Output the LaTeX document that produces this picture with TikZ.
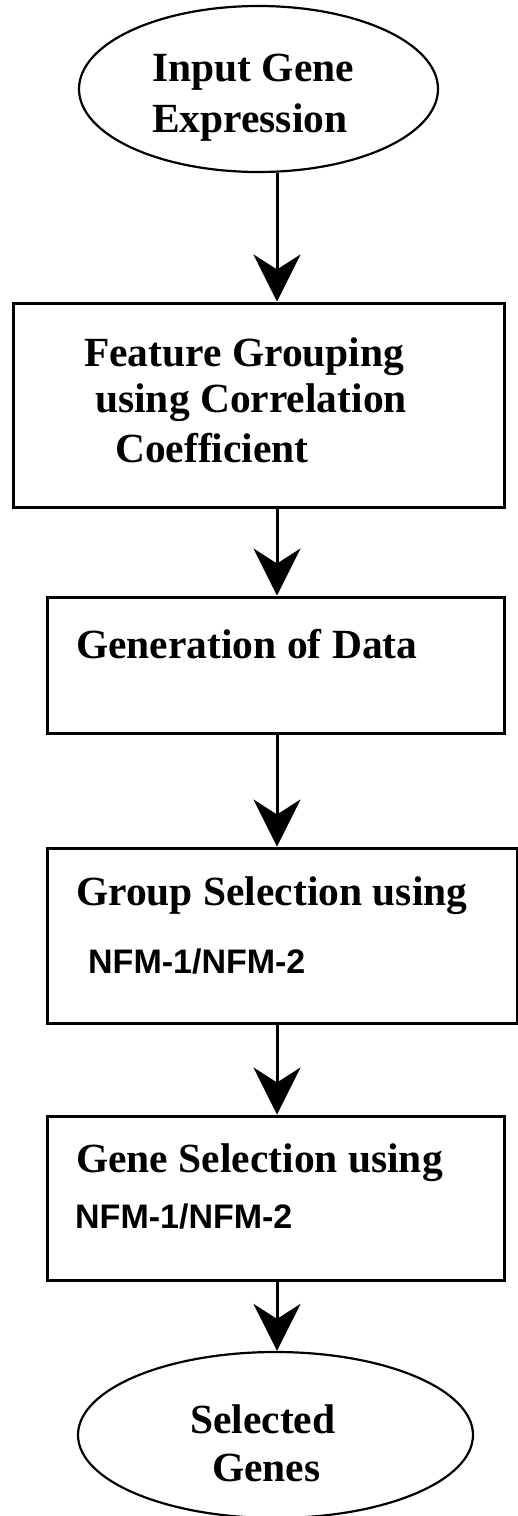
\documentclass[tikz,border=0pt]{standalone}
\usepackage{fontspec}
\setmainfont{Liberation Serif}
\newfontfamily\nfmfont{Liberation Sans}
\usetikzlibrary{arrows.meta,shapes.geometric}

\tikzset{
	stagebox/.style={draw, rectangle, line width=3pt, inner sep=0pt},
	termell/.style={draw, ellipse, line width=2.2pt, inner sep=0pt},
	txt/.style={anchor=base west, inner sep=0pt, font=\fontsize{41.5}{49}\selectfont\bfseries},
	nfmtxt/.style={anchor=base west, inner sep=0pt, font=\fontsize{34}{40}\selectfont\nfmfont\bfseries},
	flow/.style={->, line width=3pt}
}

\begin{document}
\begin{tikzpicture}[>={Stealth[length=47pt,width=47pt,inset=15pt]}, x=1pt, y=-1pt]
		\useasboundingbox (0,0) rectangle (518,1516);
		\coordinate (axis) at (277,0);
		\node[termell, minimum width=359pt, minimum height=166pt] (inEll) at (258.5,89) {};
		\node[stagebox, minimum width=491pt, minimum height=204pt] (fgBox) at (258.5,405) {};
		\node[stagebox, minimum width=457pt, minimum height=136pt] (genBox) at (275.5,665) {};
		\node[stagebox, minimum width=470pt, minimum height=175pt] (grpBox) at (282,935.5) {};
		\node[stagebox, minimum width=457pt, minimum height=164pt] (gsBox) at (275.5,1198) {};
		\node[termell, minimum width=395pt, minimum height=166pt] (outEll) at (275.5,1435) {};
		\draw[flow] (inEll.south -| axis) -- (fgBox.north -| axis);
		\draw[flow] (fgBox.south -| axis) -- (genBox.north -| axis);
		\draw[flow] (genBox.south -| axis) -- (grpBox.north -| axis);
		\draw[flow] (grpBox.south -| axis) -- (gsBox.north -| axis);
		\draw[flow] (gsBox.south -| axis) -- (outEll.north -| axis);
		\node[txt] (tIn1) at (152,81) {Input Gene};
		\node[txt] (tIn2) at (152,132) {Expression};
		\node[txt] (tFg1) at (84,366) {Feature Grouping};
		\node[txt] (tFg2) at (95,412) {using Correlation};
		\node[txt] (tFg3) at (115,462) {Coefficient};
		\node[txt] (tGen) at (76,658) {Generation of Data};
		\node[txt] (tGrp1) at (76,905) {Group Selection using};
		\node[nfmtxt] (tGrp2) at (88,973) {NFM-1/NFM-2};
		\node[txt] (tGs1) at (76,1172) {Gene Selection using};
		\node[nfmtxt] (tGs2) at (75,1228) {NFM-1/NFM-2};
		\node[txt] (tOut1) at (190,1433) {Selected};
		\node[txt] (tOut2) at (212,1481) {Genes};
	\end{tikzpicture}
\end{document}
